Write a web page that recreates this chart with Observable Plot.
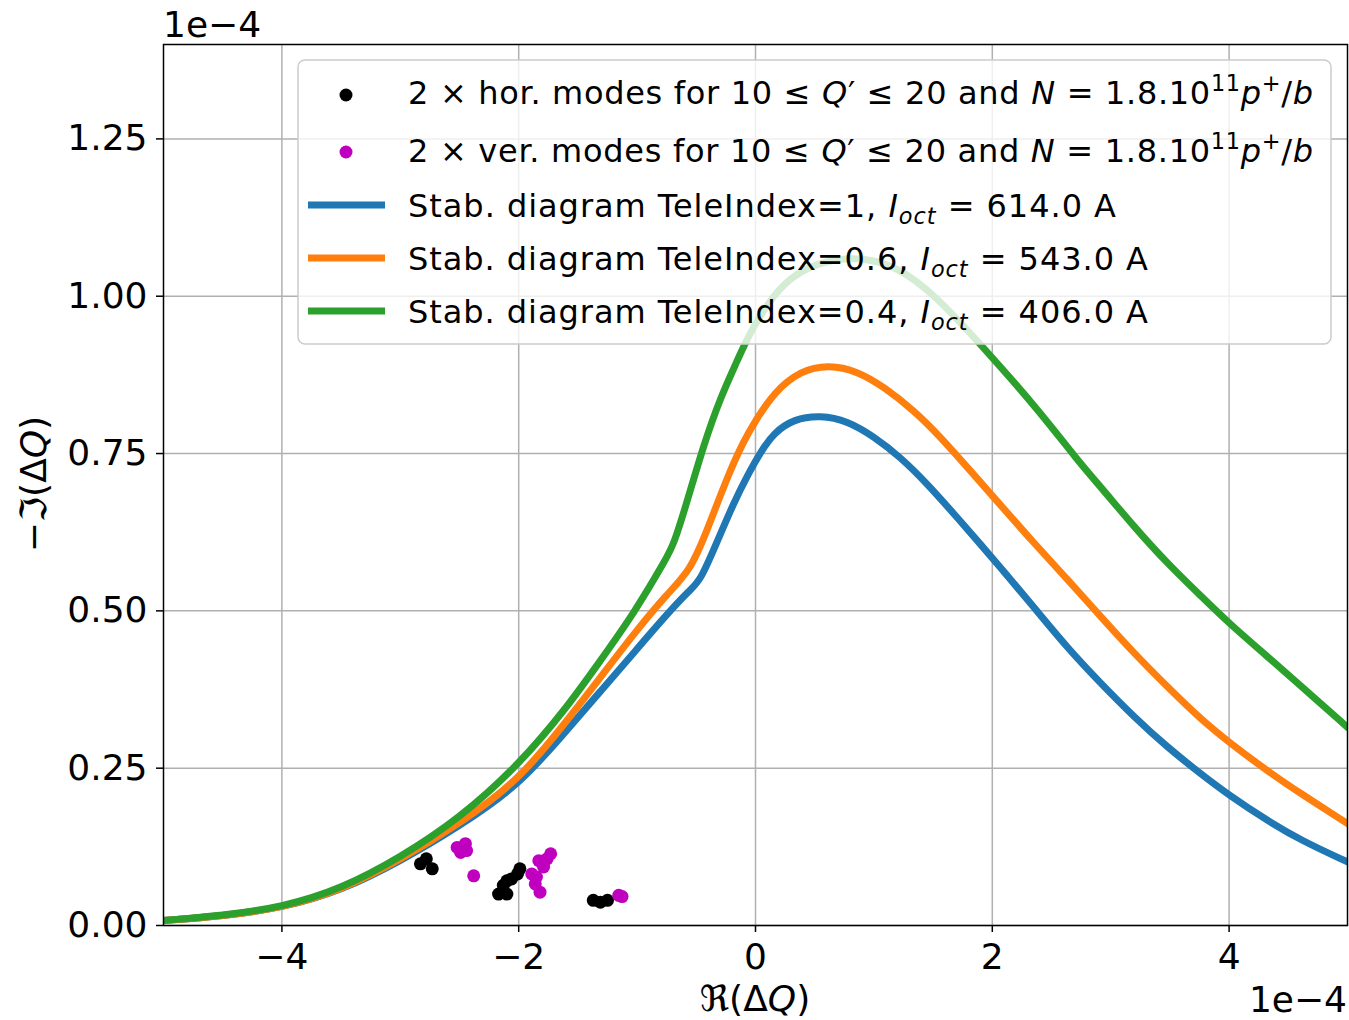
<!DOCTYPE html>
<html><head><meta charset="utf-8">
<script src="https://cdn.jsdelivr.net/npm/d3@7"></script>
<script src="https://cdn.jsdelivr.net/npm/@observablehq/plot@0.6"></script>
<style>body{margin:0;background:#fff;} svg{display:block}</style>
</head><body><div id="chart"></div>
<script>
// ---- data (units of 1e-4) ----
const blueX = [-5, -4.5, -4, -3.5, -3, -2.5, -2, -1.59, -1.31, -1.03, -0.747, -0.55, -0.465, -0.324, -0.183, -0.06, 0.042, 0.155, 0.324, 0.549, 0.775, 1.0, 1.226, 1.45, 1.677, 1.9, 2.127, 2.35, 2.63, 2.92, 3.2, 3.48, 3.76, 4.0, 4.32, 4.61, 5.0];
const blueY = [0.008, 0.015, 0.028, 0.055, 0.102, 0.158, 0.222, 0.311, 0.372, 0.433, 0.495, 0.534, 0.548, 0.610, 0.672, 0.718, 0.752, 0.783, 0.805, 0.811, 0.802, 0.777, 0.744, 0.702, 0.654, 0.606, 0.556, 0.506, 0.442, 0.384, 0.331, 0.283, 0.241, 0.207, 0.167, 0.135, 0.101];
const orangeX = [-5, -4.5, -4, -3.5, -3, -2.5, -2, -1.59, -1.31, -1.03, -0.747, -0.55, -0.41, -0.24, -0.1, 0, 0.155, 0.38, 0.62, 0.86, 1.085, 1.34, 1.564, 1.79, 2.0, 2.35, 2.63, 2.92, 3.2, 3.48, 3.76, 4.0, 4.32, 4.61, 5.0];
const orangeY = [0.008, 0.015, 0.028, 0.056, 0.104, 0.162, 0.230, 0.326, 0.394, 0.463, 0.527, 0.564, 0.627, 0.712, 0.770, 0.802, 0.847, 0.882, 0.891, 0.881, 0.856, 0.818, 0.776, 0.728, 0.683, 0.608, 0.551, 0.490, 0.432, 0.379, 0.328, 0.291, 0.246, 0.209, 0.162];
const greenX = [-5, -4.5, -4, -3.5, -3, -2.5, -2, -1.59, -1.31, -1.03, -0.747, -0.69, -0.58, -0.436, -0.296, -0.155, -0.042, 0.2, 0.45, 0.7, 0.95, 1.2, 1.5, 1.9, 2.41, 2.72, 2.92, 3.2, 3.48, 3.76, 4.0, 4.32, 4.61, 5.0];
const greenY = [0.008, 0.016, 0.029, 0.058, 0.108, 0.170, 0.255, 0.347, 0.421, 0.495, 0.585, 0.606, 0.672, 0.765, 0.839, 0.897, 0.945, 1.017, 1.048, 1.060, 1.060, 1.046, 1.005, 0.924, 0.815, 0.739, 0.696, 0.633, 0.575, 0.524, 0.480, 0.428, 0.380, 0.315];

const horX = [-2.83, -2.78, -2.73, -2.17, -2.10, -2.13, -2.10, -2.06, -2.01, -1.99, -1.37, -1.31, -1.25];
const horY = [0.098, 0.106, 0.090, 0.050, 0.050, 0.064, 0.071, 0.074, 0.082, 0.090, 0.040, 0.037, 0.040];
const verX = [-2.52, -2.45, -2.44, -2.49, -2.38, -1.73, -1.76, -1.83, -1.79, -1.89, -1.85, -1.86, -1.82, -1.155, -1.127];
const verY = [0.124, 0.130, 0.119, 0.116, 0.079, 0.114, 0.106, 0.103, 0.093, 0.082, 0.077, 0.066, 0.053, 0.048, 0.046];

const xTicks = [-4, -2, 0, 2, 4];
const yTicks = [0, 0.25, 0.5, 0.75, 1.0, 1.25];
const seriesColors = ["#1f77b4", "#ff7f0e", "#2ca02c"];
const dotColors = ["black", "#bf00bf"];

const toRows = (xs, ys) => xs.map((x, i) => ({x, y: ys[i]}));
const curves = [toRows(blueX, blueY), toRows(orangeX, orangeY), toRows(greenX, greenY)];
const hor = toRows(horX, horY);
const ver = toRows(verX, verY);

const FONT = "DejaVu Sans";
const plot = Plot.plot({
  width: 1349, height: 1020,
  marginLeft: 163, marginRight: 2, marginTop: 44, marginBottom: 95,
  style: {fontFamily: FONT, fontSize: "36px", color: "black", background: "white"},
  x: {domain: [-5, 5]},
  y: {domain: [0, 1.4]},
  marks: [
    Plot.gridX(xTicks, {stroke: "#b0b0b0", strokeOpacity: 1, strokeWidth: 1.5}),
    Plot.gridY(yTicks, {stroke: "#b0b0b0", strokeOpacity: 1, strokeWidth: 1.5}),
    Plot.dot(hor, {x: "x", y: "y", r: 6.5, fill: dotColors[0], stroke: null}),
    Plot.dot(ver, {x: "x", y: "y", r: 6.5, fill: dotColors[1], stroke: null}),
    ...curves.map((c, i) => Plot.line(c, {x: "x", y: "y", stroke: seriesColors[i], strokeWidth: 7, curve: "basis", clip: true})),
    Plot.frame({stroke: "black", strokeWidth: 1.5}),
    Plot.axisX(xTicks, {tickSize: 7, tickPadding: 11, strokeWidth: 1.5, fontSize: 36, tickFormat: d3.format("d"), label: null}),
    Plot.axisY(yTicks, {tickSize: 7, tickPadding: 9, strokeWidth: 1.5, fontSize: 36, tickFormat: d3.format(".2f"), label: null})
  ]
});
document.getElementById("chart").appendChild(plot);

const svg = d3.select(plot);

function rich(parent, x, y, segs, size, opts = {}) {
  const t = parent.append("text").attr("x", x).attr("y", y)
    .attr("font-family", FONT).attr("font-size", size).attr("fill", "black")
    .attr("text-anchor", opts.anchor || "start");
  if (opts.transform) t.attr("transform", opts.transform);
  if (opts.width) t.attr("textLength", opts.width).attr("lengthAdjust", "spacing");
  let shift = 0;
  for (const s of segs) {
    const sp = t.append("tspan").text(s.t);
    if (s.i) sp.attr("font-style", "italic");
    let target = 0;
    if (s.sup) { sp.attr("font-size", size * 0.7); target = -0.42 * size; }
    if (s.sub) { sp.attr("font-size", size * 0.7); target = 0.22 * size; }
    if (target !== shift) { sp.attr("dy", target - shift); shift = target; }
  }
  return t;
}

// exponent labels
svg.append("text").attr("x", 163).attr("y", 37).attr("text-anchor", "start").attr("font-family", FONT).attr("font-size", 36).text("1e\u22124");
svg.append("text").attr("x", 1347).attr("y", 1012).attr("text-anchor", "end").attr("font-family", FONT).attr("font-size", 36).text("1e\u22124");

// axis labels
rich(svg, 755, 1011, [{t: "\u211C("}, {t: "\u0394"}, {t: "Q", i: true}, {t: ")"}], 36, {anchor: "middle"});
rich(svg, 0, 0, [{t: "\u2212\u2111("}, {t: "\u0394"}, {t: "Q", i: true}, {t: ")"}], 36, {anchor: "middle", transform: "translate(46,484) rotate(-90)"});

// legend
const lg = svg.append("g");
lg.append("rect").attr("x", 298).attr("y", 60).attr("width", 1033).attr("height", 284).attr("rx", 7)
  .attr("fill", "white").attr("fill-opacity", 0.8).attr("stroke", "#cccccc").attr("stroke-width", 1.5);

const modeSegs = (kind) => [
  {t: "2 \u00D7 " + kind + ". modes for 10 \u2264 "}, {t: "Q", i: true}, {t: "\u2032 \u2264 20 and "},
  {t: "N", i: true}, {t: " = 1.8.10"}, {t: "11", sup: true}, {t: "p", i: true}, {t: "+", sup: true}, {t: "/"}, {t: "b", i: true}
];
const stabSegs = (ti, cur) => [
  {t: "Stab. diagram TeleIndex=" + ti + ", "}, {t: "I", i: true}, {t: "oct", i: true, sub: true}, {t: " = " + cur + " A"}
];
const legendRows = [
  {type: "dot", color: dotColors[0], cy: 95, base: 104, segs: modeSegs("hor"), w: 905},
  {type: "dot", color: dotColors[1], cy: 152, base: 162, segs: modeSegs("ver"), w: 905},
  {type: "line", color: seriesColors[0], cy: 205, base: 217, segs: stabSegs("1", "614.0"), w: 708},
  {type: "line", color: seriesColors[1], cy: 258, base: 270, segs: stabSegs("0.6", "543.0"), w: 740},
  {type: "line", color: seriesColors[2], cy: 311, base: 323, segs: stabSegs("0.4", "406.0"), w: 740}
];
for (const r of legendRows) {
  if (r.type === "dot") lg.append("circle").attr("cx", 346).attr("cy", r.cy).attr("r", 6.5).attr("fill", r.color);
  else lg.append("line").attr("x1", 308).attr("x2", 385).attr("y1", r.cy).attr("y2", r.cy).attr("stroke", r.color).attr("stroke-width", 7);
  rich(lg, 408, r.base, r.segs, 32, {width: r.w});
}
</script></body></html>
